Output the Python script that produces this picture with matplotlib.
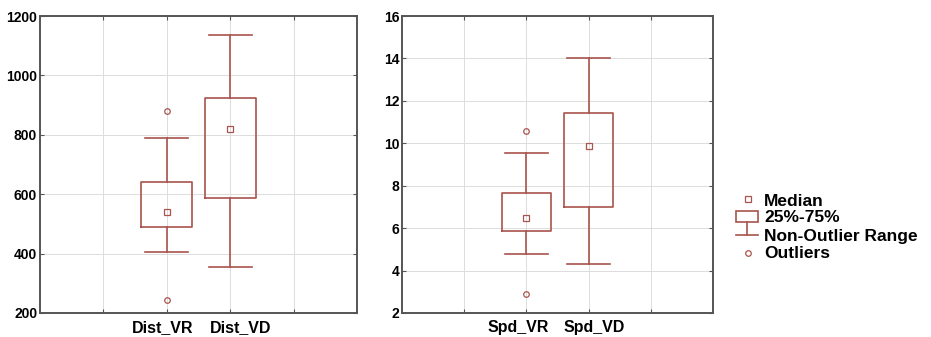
import matplotlib
matplotlib.use('Agg')
from matplotlib import pyplot as plt
from matplotlib.patches import Rectangle
from matplotlib.lines import Line2D
from matplotlib.transforms import ScaledTranslation

plt.rcParams['font.family'] = ['Liberation Sans', 'DejaVu Sans']
plt.rcParams['font.weight'] = 'bold'

# values
dist_labels = ['Dist_VR', 'Dist_VD']
dist_median = [540, 818]
dist_q1 = [490, 588]
dist_q3 = [640, 925]
dist_low = [405, 355]
dist_high = [790, 1135]
dist_outliers = [[880, 245], []]

spd_labels = ['Spd_VR', 'Spd_VD']
spd_median = [6.5, 9.85]
spd_q1 = [5.85, 7.0]
spd_q3 = [7.65, 11.45]
spd_low = [4.8, 4.3]
spd_high = [9.55, 14.0]
spd_outliers = [[10.6, 2.9], []]

legend_labels = ['Median', '25%-75%', 'Non-Outlier Range', 'Outliers']

col = '#a9544c'
frame = '#555555'
W, H = 931, 337


def draw_panel(ax, labels, med, q1, q3, lo, hi, outl, ylim, yticks, shifts):
    stats = []
    for i in range(len(labels)):
        stats.append(dict(med=med[i], q1=q1[i], q3=q3[i], whislo=lo[i], whishi=hi[i],
                          fliers=outl[i], label=labels[i]))
    pos = [1, 2]
    ax.bxp(stats, positions=pos, widths=0.8, capwidths=0.68, showfliers=True,
           boxprops=dict(color=col, lw=1.2),
           whiskerprops=dict(color=col, lw=1.2),
           capprops=dict(color=col, lw=1.2),
           medianprops=dict(visible=False),
           flierprops=dict(marker='o', markersize=4, markerfacecolor='none',
                           markeredgecolor=col, markeredgewidth=0.9))
    ax.plot(pos, med, ls='none', marker='s', markersize=4, markerfacecolor='none',
            markeredgecolor=col, markeredgewidth=0.9)
    ax.set_xlim(-1, 4)
    ax.set_ylim(*ylim)
    ax.set_yticks(yticks)
    ax.set_xticks([0, 1, 2, 3])
    ax.set_xticklabels(['', labels[0], labels[1], ''], fontsize=11.5, fontweight='bold')
    ax.tick_params(axis='y', labelsize=10, direction='in', length=3, right=True,
                   color=frame, pad=2)
    ax.tick_params(axis='x', direction='in', length=3, top=True, color=frame, pad=5)
    for lab in ax.get_yticklabels():
        lab.set_fontweight('bold')
    # labels in the original sit a little off their ticks
    tl = ax.get_xticklabels()
    for lab, dx in zip(tl[1:3], shifts):
        lab.set_transform(lab.get_transform() + ScaledTranslation(dx / 100, 0, fig.dpi_scale_trans))
    ax.grid(True, color='#dcdcdc', lw=0.7)
    ax.set_axisbelow(True)
    for s in ax.spines.values():
        s.set_color(frame)
        s.set_linewidth(1.4)


fig = plt.figure(figsize=(W / 100, H / 100), dpi=100)
ax1 = fig.add_axes([40 / W, 24 / H, 317 / W, 297 / H])
ax2 = fig.add_axes([402 / W, 24 / H, 311 / W, 297 / H])

draw_panel(ax1, dist_labels, dist_median, dist_q1, dist_q3, dist_low, dist_high,
           dist_outliers, (200, 1200), range(200, 1201, 200), (-4, 10))
draw_panel(ax2, spd_labels, spd_median, spd_q1, spd_q3, spd_low, spd_high,
           spd_outliers, (2, 16), range(2, 17, 2), (-8, 6))

# legend drawn in pixel coords
lg = fig.add_axes([0, 0, 1, 1], facecolor='none')
lg.set_xlim(0, W)
lg.set_ylim(H, 0)
lg.axis('off')
lg.plot([748], [199], marker='s', markersize=4, markerfacecolor='none',
        markeredgecolor=col, markeredgewidth=0.9)
lg.add_patch(Rectangle((736, 211), 22, 11, fill=False, edgecolor=col, lw=1.2))
lg.add_line(Line2D([747, 747], [222, 235], color=col, lw=1.2))
lg.add_line(Line2D([736, 758], [235, 235], color=col, lw=1.2))
lg.plot([748], [253], marker='o', markersize=4, markerfacecolor='none',
        markeredgecolor=col, markeredgewidth=0.9)
for lab, y in zip(legend_labels, [201, 218, 236, 253]):
    lg.text(764, y, lab, fontsize=12.5, fontweight='bold', va='center', ha='left')

fig.savefig('out.png', dpi=100)
